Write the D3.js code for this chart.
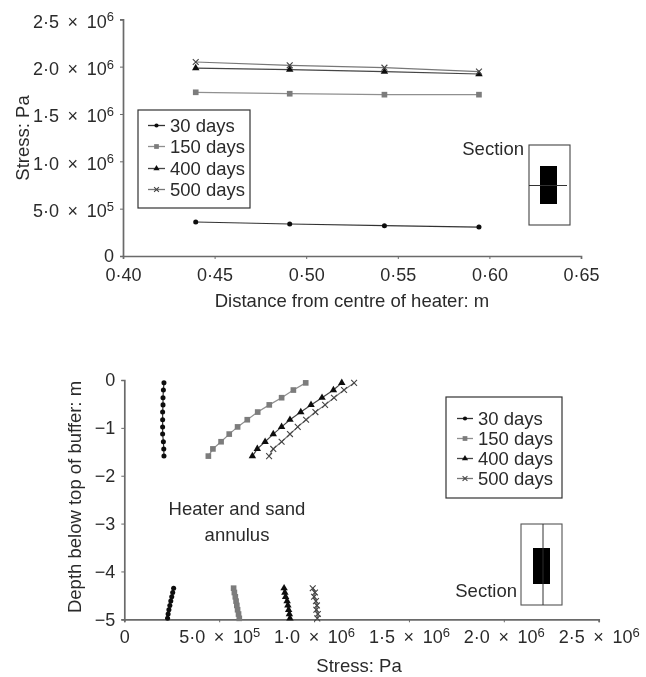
<!DOCTYPE html>
<html><head><meta charset="utf-8">
<style>html,body{margin:0;padding:0;background:#fff}svg{display:block}text{font-family:"Liberation Sans",Arial,sans-serif;fill:#2b2b2b;font-size:18.5px}</style>
<script src="https://d3js.org/d3.v7.min.js"></script></head><body>
<script>
const seriesNames = ["30 days","150 days","400 days","500 days"];
// Top chart
const distance = [0.4397,0.491,0.5427,0.5943];
const top30  = [3.59e5,3.38e5,3.20e5,3.06e5];
const top150 = [1.729e6,1.714e6,1.704e6,1.704e6];
const top400 = [1.985e6,1.968e6,1.947e6,1.922e6];
const top500 = [2.049e6,2.014e6,1.989e6,1.947e6];
const topXTicks = [0.40,0.45,0.50,0.55,0.60,0.65];
const stressTicks = [0,5e5,1e6,1.5e6,2e6,2.5e6];
// Bottom chart, upper part of the buffer
const depthUpper = [-0.06,-0.21,-0.37,-0.52,-0.67,-0.83,-0.98,-1.13,-1.29,-1.44,-1.59];
const upper30  = [2.09e5,2.06e5,2.04e5,2.04e5,2.02e5,2.02e5,2.02e5,2.02e5,2.06e5,2.08e5,2.09e5];
const upper150 = [9.56e5,8.91e5,8.29e5,7.64e5,7.03e5,6.48e5,5.97e5,5.53e5,5.10e5,4.67e5,4.43e5];
const upper400 = [1.146e6,1.102e6,1.042e6,9.84e5,9.30e5,8.73e5,8.29e5,7.85e5,7.42e5,7.01e5,6.75e5];
const upper500 = [1.211e6,1.158e6,1.105e6,1.058e6,1.007e6,9.58e5,9.14e5,8.73e5,8.29e5,7.85e5,7.63e5];
// Bottom chart, lower part of the buffer
const depthLower = [-4.35,-4.44,-4.53,-4.62,-4.71,-4.80,-4.89,-4.98];
const lower30  = [2.60e5,2.55e5,2.50e5,2.45e5,2.40e5,2.35e5,2.31e5,2.28e5];
const lower150 = [5.76e5,5.80e5,5.85e5,5.89e5,5.93e5,5.97e5,6.02e5,6.06e5];
const lower400 = [8.42e5,8.46e5,8.50e5,8.58e5,8.62e5,8.66e5,8.70e5,8.73e5];
const lower500 = [9.93e5,1.005e6,1.0e6,1.01e6,1.015e6,1.012e6,1.02e6,1.017e6];
const depthTicks = [0,-1,-2,-3,-4,-5];

const W=646,H=677;
const svg=d3.select("body").append("svg").attr("width",W).attr("height",H);
const defs=svg.append("defs");
defs.append("filter").attr("id","soft").append("feGaussianBlur").attr("stdDeviation",0.5);
const root=svg.append("g").attr("filter","url(#soft)");

const styles=[
 {stroke:"#333",sym:d3.symbolCircle,size:20,fill:"#111"},
 {stroke:"#8f8f8f",sym:d3.symbolSquare,size:32,fill:"#7c7c7c"},
 {stroke:"#444",sym:d3.symbolTriangle,size:24,fill:"#111"},
 {stroke:"#777",sym:d3.symbolTimes,size:24,fill:"none",mark:"#444"}
];
function sci(v){
  if(v===0) return {m:"0"};
  const e=Math.floor(Math.log10(v)+1e-9), m=(v/Math.pow(10,e)).toFixed(1).replace(".","·");
  return {m:m+"\u2009 × \u200910",e:String(e)};
}
function setSci(sel){
  sel.each(function(d){
    const s=sci(d), t=d3.select(this); t.text(s.m);
    if(s.e) t.append("tspan").attr("dy","-0.5em").style("font-size","13px").text(s.e);
  });
}
function styleAxis(g){
  g.select(".domain").attr("stroke","#6a6a6a").attr("stroke-width",1.7);
  g.selectAll(".tick line").attr("stroke","#6a6a6a").attr("stroke-width",1);
  g.selectAll(".tick text").style("font-size","18px").attr("fill","#2b2b2b");
}
function drawSeries(g,xs,ys,style,x,y,w){
  const pts=d3.zip(xs,ys);
  g.append("path").datum(pts).attr("fill","none").attr("stroke",style.stroke).attr("stroke-width",w||1.2)
    .attr("d",d3.line().x(d=>x(d[0])).y(d=>y(d[1])));
  const sym=d3.symbol().type(style.sym).size(style.size);
  g.selectAll(null).data(pts).join("path").attr("d",sym)
    .attr("transform",d=>`translate(${x(d[0])},${y(d[1])})`)
    .attr("fill",style.fill).attr("stroke",style.mark||"none").attr("stroke-width",style.mark?1.1:0);
}
function legend(x0,y0,x1,y1,lineA,lineB,textX,baselines){
  const g=root.append("g");
  g.append("rect").attr("x",x0).attr("y",y0).attr("width",x1-x0).attr("height",y1-y0)
    .attr("fill","#fff").attr("stroke","#333").attr("stroke-width",1.2);
  seriesNames.forEach((n,i)=>{
    const b=baselines[i], st=styles[i], cy=b-6.5;
    g.append("line").attr("x1",lineA).attr("x2",lineB).attr("y1",cy).attr("y2",cy).attr("stroke",st.stroke).attr("stroke-width",1.3);
    g.append("path").attr("d",d3.symbol().type(st.sym).size(st.size*0.7)()).attr("transform",`translate(${(lineA+lineB)/2},${cy})`)
      .attr("fill",st.fill).attr("stroke",st.mark||"none").attr("stroke-width",st.mark?1.1:0);
    g.append("text").attr("x",textX).attr("y",b).text(n);
  });
}
function label(x,y,t,anchor){root.append("text").attr("x",x).attr("y",y).attr("text-anchor",anchor||"middle").text(t);}
function vlabel(x,y,t){root.append("text").attr("transform",`translate(${x},${y}) rotate(-90)`).attr("text-anchor","middle").text(t);}

// ---------- top chart
{
  const x=d3.scaleLinear().domain([0.40,0.65]).range([123,581]);
  const y=d3.scaleLinear().domain([0,2.5e6]).range([256,19.3]);
  root.append("g").attr("transform","translate(0,256)")
    .call(d3.axisBottom(x).tickValues(topXTicks).tickSize(3).tickPadding(9).tickFormat(d=>d.toFixed(2).replace(".","·"))).call(styleAxis);
  const gy=root.append("g").attr("transform","translate(123,0)")
    .call(d3.axisLeft(y).tickValues(stressTicks).tickSize(3).tickPadding(6).tickFormat("")).call(styleAxis);
  gy.selectAll(".tick text").attr("dy",d=>d===0?"0.32em":"0.44em").call(setSci);
  [top30,top150,top400,top500].forEach((v,i)=>drawSeries(root.append("g"),distance,v,styles[i],x,y));
  legend(138,110,250,208,148,165,170,[132,153,175,196]);
  label(352,307,"Distance from centre of heater: m");
  vlabel(28.5,138,"Stress: Pa");
  label(524,155,"Section","end");
  const s=root.append("g");
  s.append("rect").attr("x",529).attr("y",145).attr("width",41).attr("height",80).attr("fill","none").attr("stroke","#444").attr("stroke-width",1.1);
  s.append("rect").attr("x",540).attr("y",166).attr("width",17).attr("height",38).attr("fill","#000");
  s.append("line").attr("x1",529).attr("x2",567).attr("y1",185.5).attr("y2",185.5).attr("stroke","#333");
}
// ---------- bottom chart
{
  const x=d3.scaleLinear().domain([0,2.5e6]).range([124.3,598.7]);
  const y=d3.scaleLinear().domain([0,-5]).range([380,619.3]);
  const gx=root.append("g").attr("transform","translate(0,619.3)")
    .call(d3.axisBottom(x).tickValues(stressTicks).tickSize(3).tickPadding(8).tickFormat("")).call(styleAxis);
  gx.selectAll(".tick text").call(setSci);
  root.append("g").attr("transform","translate(124.3,0)")
    .call(d3.axisLeft(y).tickValues(depthTicks).tickSize(3).tickPadding(6).tickFormat(d=>d===0?"0":"−"+Math.abs(d))).call(styleAxis);
  [upper30,upper150,upper400,upper500].forEach((v,i)=>drawSeries(root.append("g"),v,depthUpper,styles[i],x,y));
  [lower30,lower150,lower400,lower500].forEach((v,i)=>drawSeries(root.append("g"),v,depthLower,styles[i],x,y,2));
  legend(446,397,562,498,457,473,478,[425,445,465,485]);
  label(237,515,"Heater and sand");
  label(237,541,"annulus");
  label(359,672,"Stress: Pa");
  vlabel(81,497,"Depth below top of buffer: m");
  label(517,597,"Section","end");
  const s=root.append("g");
  s.append("rect").attr("x",521).attr("y",524).attr("width",41).attr("height",81).attr("fill","none").attr("stroke","#555").attr("stroke-width",1.1);
  s.append("rect").attr("x",533).attr("y",548).attr("width",17).attr("height",36).attr("fill","#000");
  s.append("line").attr("x1",543).attr("x2",543).attr("y1",524).attr("y2",605).attr("stroke","#333");
}
</script></body></html>
